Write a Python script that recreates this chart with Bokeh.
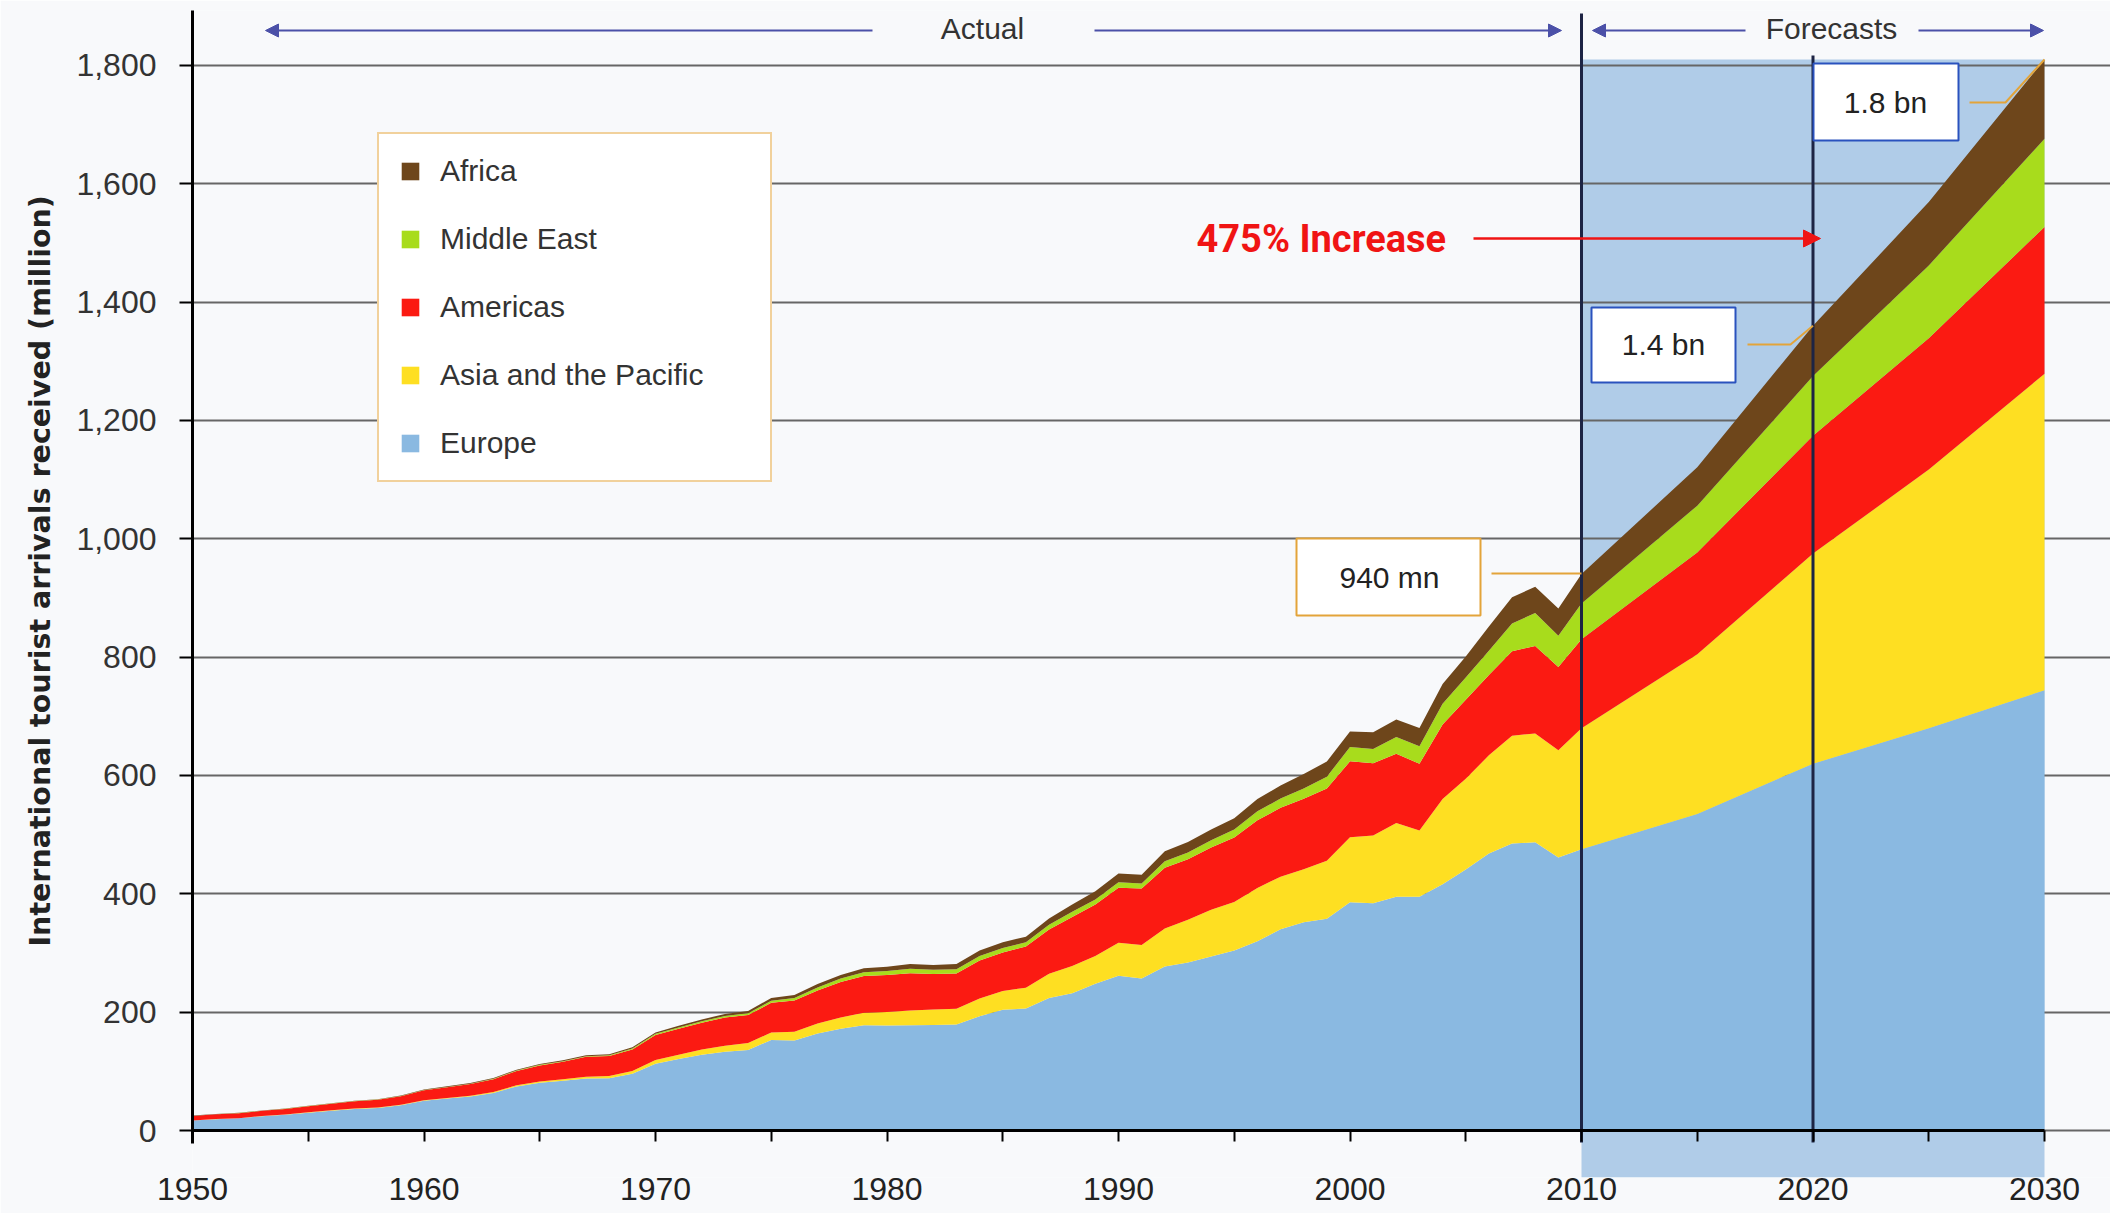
from bokeh.plotting import figure
from bokeh.models import (ColumnDataSource, Range1d, LinearAxis, FixedTicker,
                          NumeralTickFormatter, Legend, LegendItem, BoxAnnotation,
                          Label, Arrow, NormalHead, Title)
from bokeh.embed import file_html
from bokeh.resources import INLINE

# ---------------- data (million arrivals) ----------------
years = list(range(1950, 2011)) + [2015, 2020, 2025, 2030]

europe = [16.8, 19.0, 20.5, 24.0, 26.5, 30.0, 33.5, 36.5, 38.0, 42.5,
          50.4, 54.0, 57.5, 63.5, 74.5, 80.6, 84.0, 88.0, 88.5, 96.0,
          113.0, 121.0, 128.0, 133.0, 136.0, 153.0, 152.0, 164.0, 172.0, 178.0,
          177.3, 178.0, 178.5, 179.0, 193.0, 204.0, 206.0, 224.0, 232.0, 248.0,
          261.5, 257.0, 277.0, 284.0, 294.0, 304.0, 320.0, 340.0, 352.0, 358.0,
          385.6, 384.0, 395.0, 395.0, 416.0, 441.0, 468.0, 485.0, 487.0, 461.5,
          475.3, 535.0, 620.0, 680.0, 744.0]
asia = [0.2, 0.3, 0.4, 0.5, 0.6, 0.7, 0.8, 0.8, 0.8, 0.9,
        0.9, 1.1, 1.4, 1.7, 2.0, 2.1, 2.6, 3.0, 3.4, 4.6,
        6.2, 7.0, 8.7, 10.4, 11.8, 12.7, 14.8, 16.7, 19.0, 21.0,
        23.0, 24.6, 25.8, 26.8, 30.1, 31.8, 35.4, 40.9, 46.0, 47.0,
        55.8, 56.4, 64.5, 72.3, 79.1, 82.0, 90.0, 89.0, 89.4, 98.0,
        110.1, 114.5, 124.9, 111.9, 144.2, 153.6, 166.0, 182.0, 184.1, 181.1,
        204.4, 270.0, 355.0, 437.0, 535.0]
americas = [7.5, 8.0, 8.3, 8.8, 9.2, 10.2, 11.0, 12.0, 13.0, 14.5,
            16.7, 18.0, 19.5, 21.5, 24.0, 27.3, 29.5, 33.5, 34.0, 36.5,
            42.3, 44.0, 45.5, 47.5, 47.5, 50.0, 53.0, 56.0, 60.0, 62.0,
            62.3, 63.0, 60.0, 59.5, 64.0, 65.1, 69.5, 75.0, 83.0, 87.0,
            92.8, 95.6, 102.7, 102.2, 105.0, 109.0, 114.5, 116.3, 119.2, 121.9,
            128.2, 122.1, 116.7, 113.1, 125.8, 133.3, 135.8, 142.9, 147.8, 140.6,
            150.7, 172.0, 199.0, 222.0, 248.0]
mideast = [0.2, 0.2, 0.2, 0.2, 0.3, 0.3, 0.3, 0.4, 0.4, 0.5,
           0.6, 0.6, 0.7, 0.8, 0.9, 1.0, 1.1, 1.1, 1.2, 1.6,
           1.9, 2.1, 2.3, 2.4, 2.8, 3.5, 4.3, 5.1, 5.8, 6.5,
           7.1, 7.6, 7.2, 7.4, 7.7, 7.5, 7.2, 8.0, 8.5, 8.6,
           9.6, 8.4, 10.7, 11.3, 12.3, 13.7, 15.0, 15.6, 17.5, 20.0,
           24.1, 24.2, 28.5, 29.5, 35.4, 37.9, 41.0, 47.0, 55.6, 52.9,
           60.3, 79.0, 101.0, 123.0, 149.0]
africa = [0.5, 0.5, 0.5, 0.5, 0.6, 0.6, 0.6, 0.7, 0.7, 0.7,
          0.8, 0.9, 1.0, 1.1, 1.3, 1.4, 1.5, 1.6, 1.7, 2.0,
          2.4, 2.9, 3.3, 3.6, 4.0, 4.7, 5.1, 5.6, 6.2, 6.8,
          7.2, 8.0, 8.0, 8.6, 9.2, 9.7, 9.4, 10.3, 12.5, 13.8,
          14.8, 15.0, 16.9, 17.8, 18.4, 18.9, 20.6, 22.0, 24.4, 25.7,
          26.2, 28.3, 29.5, 30.7, 33.3, 35.4, 40.8, 44.4, 44.4, 45.9,
          49.7, 65.0, 85.0, 107.0, 134.0]

regions = ["Europe", "Asia and the Pacific", "Americas", "Middle East", "Africa"]
colors = ["#8ab9e1", "#fedf22", "#fb1a12", "#a8dc1c", "#6e461b"]
x_ticks = list(range(1950, 2031, 10))
x_all_ticks = list(range(1950, 2031, 5))
y_ticks = list(range(0, 1801, 200))
forecast_start, forecast_end = 2010, 2030
milestones = [(2010, "940 mn"), (2020, "1.4 bn"), (2030, "1.8 bn")]

total = {y: e + a + m + me + af for y, e, a, m, me, af in
         zip(years, europe, asia, americas, mideast, africa)}

# ---------------- layout (pixels of the reference) ----------------
FIG_W, FIG_H = 2110, 1213
FRAME_L, FRAME_T, FRAME_B = 192, 10, 1177     # figure pixels
PX_YEAR = 23.15                               # px per year
PX_UNIT = 0.5917                              # px per million
ZERO_PX, X0_PX = 1130, 192                    # px of y=0 and x=1950
BG = "#f8f9fb"


def X(px):  # px -> year
    return 1950 + (px - X0_PX) / PX_YEAR


def Y(py):  # px -> value
    return (ZERO_PX - py) / PX_UNIT


x_end = X(FIG_W)
y_start = Y(FRAME_B)
y_end = Y(FRAME_T)

p = figure(width=FIG_W, height=FIG_H, output_backend="svg", toolbar_location=None,
           x_range=Range1d(1950, x_end), y_range=Range1d(y_start, y_end),
           x_axis_location=None,
           min_border_left=FRAME_L, min_border_right=0, min_border_top=FRAME_T,
           min_border_bottom=FIG_H - FRAME_B,
           background_fill_color=BG, border_fill_color=BG, outline_line_color=None)
for gr in p.xgrid:
    gr.visible = False

# forecast shading (behind grid)
p.add_layout(BoxAnnotation(left=forecast_start, right=forecast_end, top=total[forecast_end],
                           fill_color="#b0cce8", fill_alpha=1, line_color=None, level="image"))

# y axis
yt = FixedTicker(ticks=y_ticks)
yax = p.yaxis[0]
yax.ticker = yt
yax.formatter = NumeralTickFormatter(format="0,0")
yax.bounds = (Y(1143), y_end)
yax.axis_line_color = "black"
yax.axis_line_width = 3
yax.major_tick_out = 13
yax.major_tick_in = 0
yax.major_tick_line_width = 2
yax.minor_tick_line_color = None
yax.major_label_standoff = 23
yax.major_label_text_font = "Liberation Sans"
yax.major_label_text_font_size = "32px"
yax.major_label_text_color = "#333333"

# y title (side title, starting where the reference's text starts)
p.add_layout(Title(text="International tourist arrivals received (million)",
                   align="left", offset=FRAME_B - 946, standoff=34,
                   text_font="DejaVu Sans", text_font_size="28.5px",
                   text_font_style="bold", text_color="#222222"), "left")

for gr in p.ygrid:
    gr.ticker = yt
    gr.bounds = (1950, forecast_end)
    gr.grid_line_color = "#666666"
    gr.grid_line_width = 2

# stacked areas
src = ColumnDataSource(dict(year=years, europe=europe, asia=asia, americas=americas,
                            mideast=mideast, africa=africa))
rs = p.varea_stack(stackers=["europe", "asia", "americas", "mideast", "africa"],
                   x="year", color=colors, source=src)

# vertical separators at 2010 and 2020
p.segment(x0=[forecast_start, 2020], y0=[Y(1142), Y(1142)],
          x1=[forecast_start, 2020], y1=[Y(13), Y(55)],
          line_color="#1d2444", line_width=3)

# x axis line + ticks drawn at y = 0 (no labels)
xax = LinearAxis(fixed_location=0, bounds=(1950, forecast_end),
                 ticker=FixedTicker(ticks=[], minor_ticks=x_all_ticks))
xax.axis_line_color = "black"
xax.axis_line_width = 3
xax.major_tick_out = 11
xax.major_tick_in = 0
xax.minor_tick_out = 11
xax.minor_tick_in = 0
xax.minor_tick_line_width = 2
xax.minor_tick_line_color = "black"
p.add_layout(xax, "below")

# x tick labels below the frame
xlab = LinearAxis(ticker=FixedTicker(ticks=x_ticks))
xlab.axis_line_color = None
xlab.major_tick_line_color = None
xlab.minor_tick_line_color = None
xlab.major_tick_out = 0
xlab.major_tick_in = 0
xlab.minor_tick_out = 0
xlab.minor_tick_in = 0
xlab.major_label_standoff = 0
xlab.major_label_text_font = "Liberation Sans"
xlab.major_label_text_font_size = "32px"
xlab.major_label_text_color = "#222222"
p.add_layout(xlab, "below")

# legend
order = [4, 3, 2, 1, 0]
legend = Legend(items=[LegendItem(label=regions[i], renderers=[rs[i]]) for i in order],
                location=(377 - FRAME_L, FRAME_B - 482),
                border_line_color="#e3a43a", border_line_width=2,
                background_fill_color="white", background_fill_alpha=1,
                padding=20, spacing=34, margin=0,
                glyph_width=22, glyph_height=22, label_standoff=19,
                label_height=31, label_width=310,
                label_text_font="Liberation Sans", label_text_font_size="30px",
                label_text_color="#333333")
p.add_layout(legend)

# top "Actual" / "Forecasts" arrows
AC = "#4b50a8"
ya = Y(30)
for xs, xe in [(872, 265), (1094, 1561), (1745, 1592), (1918, 2043)]:
    p.add_layout(Arrow(x_start=X(xs), y_start=ya, x_end=X(xe), y_end=ya,
                       line_color=AC, line_width=2,
                       end=NormalHead(size=13, fill_color=AC, line_color=AC)))
for txt, cx in [("Actual", 982), ("Forecasts", 1831)]:
    p.add_layout(Label(x=X(cx), y=Y(28), text=txt, text_align="center",
                       text_baseline="middle", text_font="Liberation Sans",
                       text_font_size="30px", text_color="#333333"))

# milestone boxes with leader lines
OR, BL = "#e3a43a", "#2a52be"
boxes = [((1296, 1480, 538, 615), OR, (1389, 577)),
         ((1591, 1735, 307, 382), BL, (1663, 344)),
         ((1813, 1958, 63, 140), BL, (1885, 102))]
leaders = [[(1491, 573)],
           [(1747, 344), (1790, 344)],
           [(1969, 102), (2005, 102)]]
for (yr, txt), (bx, bc, (tx, ty)), pts in zip(milestones, boxes, leaders):
    lx = [X(a) for a, _ in pts] + [yr]
    ly = [Y(b) for _, b in pts] + [total[yr] if len(pts) > 1 else Y(pts[0][1])]
    p.line(lx, ly, line_color=OR, line_width=2)
    l, r, t, b = bx
    p.add_layout(BoxAnnotation(left=X(l), right=X(r), top=Y(t), bottom=Y(b),
                               fill_color="white", fill_alpha=1,
                               line_color=bc, line_width=2, line_alpha=1))
for (yr, txt), (bx, bc, (tx, ty)) in zip(milestones, boxes):
    p.add_layout(Label(x=X(tx), y=Y(ty), text=txt, text_align="center",
                       text_baseline="middle", text_font="Liberation Sans",
                       text_font_size="30px", text_color="#222222"))

# 475% increase
RED = "#f01414"
yr_ = Y(238)
p.add_layout(Label(x=X(1196), y=yr_, text="475% Increase", text_align="left",
                   text_baseline="middle", text_font="Roboto", text_font_style="bold",
                   text_font_size="38px", text_color=RED))
p.add_layout(Arrow(x_start=X(1473), y_start=yr_, x_end=X(1820), y_end=yr_,
                   line_color=RED, line_width=2.5,
                   end=NormalHead(size=17, fill_color=RED, line_color=RED)))

open("out.html", "w").write(file_html(p, INLINE))
